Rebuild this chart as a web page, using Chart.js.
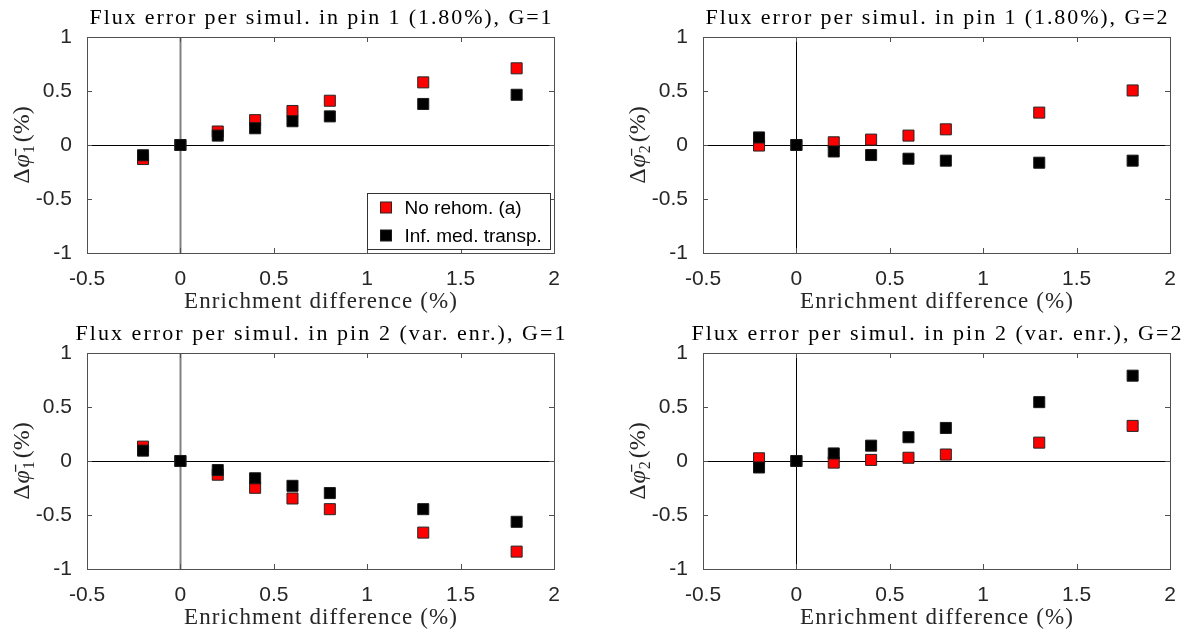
<!DOCTYPE html>
<html>
<head>
<meta charset="utf-8">
<script src="https://cdn.jsdelivr.net/npm/chart.js@4/dist/chart.umd.min.js"></script>
<style>
  html, body { margin: 0; padding: 0; background: #fff; }
  #wrap { position: relative; width: 1192px; height: 637px; }
  canvas { position: absolute; left: 0; top: 0; }
</style>
</head>
<body>
<div id="wrap">
  <canvas id="c1" width="1192" height="637"></canvas>
  <canvas id="c2" width="1192" height="637"></canvas>
  <canvas id="c3" width="1192" height="637"></canvas>
  <canvas id="c4" width="1192" height="637"></canvas>
</div>
<script>
// x values: enrichment difference (%)
const enrich = [-0.2, 0, 0.2, 0.4, 0.6, 0.8, 1.3, 1.8];

// pin 1 (1.80%), G=1
const pin1G1_noRehom = [-0.13, 0, 0.125, 0.23, 0.315, 0.41, 0.58, 0.71];
const pin1G1_infMed  = [-0.095, 0, 0.087, 0.155, 0.22, 0.265, 0.38, 0.465];
// pin 1 (1.80%), G=2
const pin1G2_noRehom = [-0.005, 0, 0.025, 0.05, 0.087, 0.145, 0.30, 0.505];
const pin1G2_infMed  = [0.07, 0, -0.06, -0.093, -0.127, -0.145, -0.164, -0.145];
// pin 2 (var. enr.), G=1
const pin2G1_noRehom = [0.133, 0, -0.127, -0.248, -0.347, -0.446, -0.663, -0.839];
const pin2G1_infMed  = [0.096, 0, -0.084, -0.16, -0.23, -0.297, -0.446, -0.563];
// pin 2 (var. enr.), G=2
const pin2G2_noRehom = [0.025, 0, -0.015, 0.01, 0.03, 0.06, 0.17, 0.325];
const pin2G2_infMed  = [-0.06, 0, 0.07, 0.142, 0.22, 0.306, 0.545, 0.79];

const seriesNames = ['No rehom. (a)', 'Inf. med. transp.'];
const titles = [
  'Flux error per simul. in pin 1 (1.80%), G=1',
  'Flux error per simul. in pin 1 (1.80%), G=2',
  'Flux error per simul. in pin 2 (var. enr.), G=1',
  'Flux error per simul. in pin 2 (var. enr.), G=2'
];
const xLabel = 'Enrichment difference (%)';

const RED = '#ff0000', BLACK = '#000000';
const SERIF = '"Liberation Serif", "Times New Roman", serif';
const SANS = '"Liberation Sans", Arial, sans-serif';

const pts = (ys) => enrich.map((x, i) => ({ x: x, y: ys[i] }));

// text stretched with letter spacing to a target width, centred at cx
function spacedText(ctx, text, cx, y, targetW) {
  ctx.letterSpacing = '0px';
  const w = ctx.measureText(text).width;
  const ls = Math.max(0, (targetW - w) / (text.length - 1));
  ctx.letterSpacing = ls + 'px';
  ctx.textAlign = 'left';
  ctx.fillText(text, cx - targetW / 2, y);
  ctx.letterSpacing = '0px';
}

function drawYLabel(ctx, area, sub) {
  const cx = area.left - 58, cy = (area.top + area.bottom) / 2;
  const parts = [
    { t: 'Δ', f: '24px ' + SERIF, dy: 0, gap: 1 },
    { t: 'φ\u0304', f: 'italic 24px ' + SERIF, dy: 0, gap: 1 },
    { t: sub, f: '16px ' + SERIF, dy: 5, gap: 3 },
    { t: '(%)', f: '24px ' + SERIF, dy: 0, gap: 0 }
  ];
  ctx.save();
  ctx.translate(cx, cy);
  ctx.rotate(-Math.PI / 2);
  ctx.fillStyle = '#262626';
  ctx.textBaseline = 'alphabetic';
  ctx.textAlign = 'left';
  let total = 0;
  parts.forEach(p => { ctx.font = p.f; p.w = ctx.measureText(p.t).width; total += p.w + p.gap; });
  let x = -total / 2;
  parts.forEach(p => { ctx.font = p.f; ctx.fillText(p.t, x, p.dy); x += p.w + p.gap; });
  ctx.restore();
}

function deco(cfg) {
  return {
    id: 'deco' + cfg.idx,
    beforeDatasetsDraw(chart) {
      const { ctx, chartArea: a, scales: { x, y } } = chart;
      ctx.save();
      // zero lines
      const x0 = Math.round(x.getPixelForValue(0)) + 0.5;
      const y0 = Math.round(y.getPixelForValue(0)) + 0.5;
      ctx.strokeStyle = cfg.vColor;
      ctx.lineWidth = cfg.vWidth;
      ctx.beginPath(); ctx.moveTo(x0, a.top); ctx.lineTo(x0, a.bottom); ctx.stroke();
      ctx.strokeStyle = '#000';
      ctx.lineWidth = 1.2;
      ctx.beginPath(); ctx.moveTo(a.left, y0); ctx.lineTo(a.right, y0); ctx.stroke();
      ctx.restore();
    },
    afterDraw(chart) {
      const { ctx, chartArea: a, scales: { x, y } } = chart;
      ctx.save();
      // axes box and inward ticks
      ctx.strokeStyle = '#505050';
      ctx.lineWidth = 1;
      ctx.strokeRect(Math.round(a.left) + 0.5, Math.round(a.top) + 0.5,
        Math.round(a.right - a.left), Math.round(a.bottom - a.top));
      ctx.beginPath();
      x.ticks.forEach(t => {
        const px = Math.round(x.getPixelForValue(t.value)) + 0.5;
        ctx.moveTo(px, a.bottom); ctx.lineTo(px, a.bottom - 5);
        ctx.moveTo(px, a.top); ctx.lineTo(px, a.top + 5);
      });
      y.ticks.forEach(t => {
        const py = Math.round(y.getPixelForValue(t.value)) + 0.5;
        ctx.moveTo(a.left, py); ctx.lineTo(a.left + 5, py);
        ctx.moveTo(a.right, py); ctx.lineTo(a.right - 5, py);
      });
      ctx.stroke();

      // title
      const cx = (a.left + a.right) / 2;
      ctx.fillStyle = '#000';
      ctx.textBaseline = 'alphabetic';
      ctx.font = '22px ' + SERIF;
      spacedText(ctx, cfg.title, cx, a.top - 13.5, cfg.titleW);

      // x axis label
      ctx.fillStyle = '#262626';
      ctx.font = '23px ' + SERIF;
      spacedText(ctx, xLabel, cx, a.bottom + 55, 273);

      drawYLabel(ctx, a, cfg.sub);

      // legend
      if (cfg.legend) {
        const bw = 183, bh = 56;
        const bx = Math.round(a.right) - 4 - bw + 0.5, by = Math.round(a.bottom) - 4 - bh + 0.5;
        ctx.fillStyle = '#fff';
        ctx.fillRect(bx, by, bw, bh);
        ctx.strokeStyle = '#333';
        ctx.strokeRect(bx, by, bw, bh);
        chart.data.datasets.forEach((ds, i) => {
          const my = by + 14 + i * 28;
          ctx.fillStyle = ds.backgroundColor;
          ctx.fillRect(bx + 13, my - 5.5, 11, 11);
          ctx.strokeStyle = ds.borderColor;
          ctx.strokeRect(bx + 13, my - 5.5, 11, 11);
          ctx.fillStyle = '#000';
          ctx.font = '19px ' + SANS;
          ctx.textAlign = 'left';
          ctx.textBaseline = 'middle';
          ctx.fillText(ds.label, bx + 37, my + 1);
        });
      }
      ctx.restore();
    }
  };
}

const tickFmt = (v) => String(Math.round(v * 10) / 10);

// area = [left, top, right, bottom] of the plot box in page pixels
function makeChart(id, area, redYs, blackYs, cfg) {
  const ctx = document.getElementById(id).getContext('2d');
  const leftW = area[0], bottomH = 637 - area[3];
  return new Chart(ctx, {
    type: 'scatter',
    data: {
      datasets: [
        {
          label: seriesNames[0],
          data: pts(redYs),
          backgroundColor: RED,
          borderColor: '#262626',
          borderWidth: 1,
          pointStyle: 'rect',
          pointRadius: 7.8,
          order: 2
        },
        {
          label: seriesNames[1],
          data: pts(blackYs),
          backgroundColor: BLACK,
          borderColor: '#1a1a1a',
          borderWidth: 1,
          pointStyle: 'rect',
          pointRadius: 7.8,
          order: 1
        }
      ]
    },
    options: {
      responsive: false,
      maintainAspectRatio: false,
      animation: false,
      events: [],
      layout: {
        padding: { left: 0, top: area[1], right: 1192 - area[2], bottom: 0 }
      },
      plugins: {
        legend: { display: false },
        title: { display: false },
        tooltip: { enabled: false }
      },
      scales: {
        x: {
          type: 'linear',
          min: -0.5,
          max: 2,
          grid: { display: false },
          border: { display: false },
          ticks: { stepSize: 0.5, padding: 6, color: '#262626', font: { family: SANS, size: 21 }, callback: tickFmt },
          afterFit: (s) => { s.height = bottomH; }
        },
        y: {
          min: -1,
          max: 1,
          grid: { display: false },
          border: { display: false },
          ticks: { stepSize: 0.5, padding: 7, color: '#262626', font: { family: SANS, size: 21 }, callback: tickFmt },
          afterFit: (s) => { s.width = leftW; }
        }
      }
    },
    plugins: [deco(cfg)]
  });
}

var chart1 = makeChart('c1', [87, 37, 554, 253], pin1G1_noRehom, pin1G1_infMed,
  { idx: 1, title: titles[0], titleW: 462, sub: '1', vColor: '#808080', vWidth: 2, legend: true });
var chart2 = makeChart('c2', [703, 37, 1170, 253], pin1G2_noRehom, pin1G2_infMed,
  { idx: 2, title: titles[1], titleW: 462, sub: '2', vColor: '#000', vWidth: 1, legend: false });
var chart3 = makeChart('c3', [87, 353, 554, 569], pin2G1_noRehom, pin2G1_infMed,
  { idx: 3, title: titles[2], titleW: 490, sub: '1', vColor: '#808080', vWidth: 2, legend: false });
var chart4 = makeChart('c4', [703, 353, 1170, 569], pin2G2_noRehom, pin2G2_infMed,
  { idx: 4, title: titles[3], titleW: 490, sub: '2', vColor: '#000', vWidth: 1, legend: false });
</script>
</body>
</html>
